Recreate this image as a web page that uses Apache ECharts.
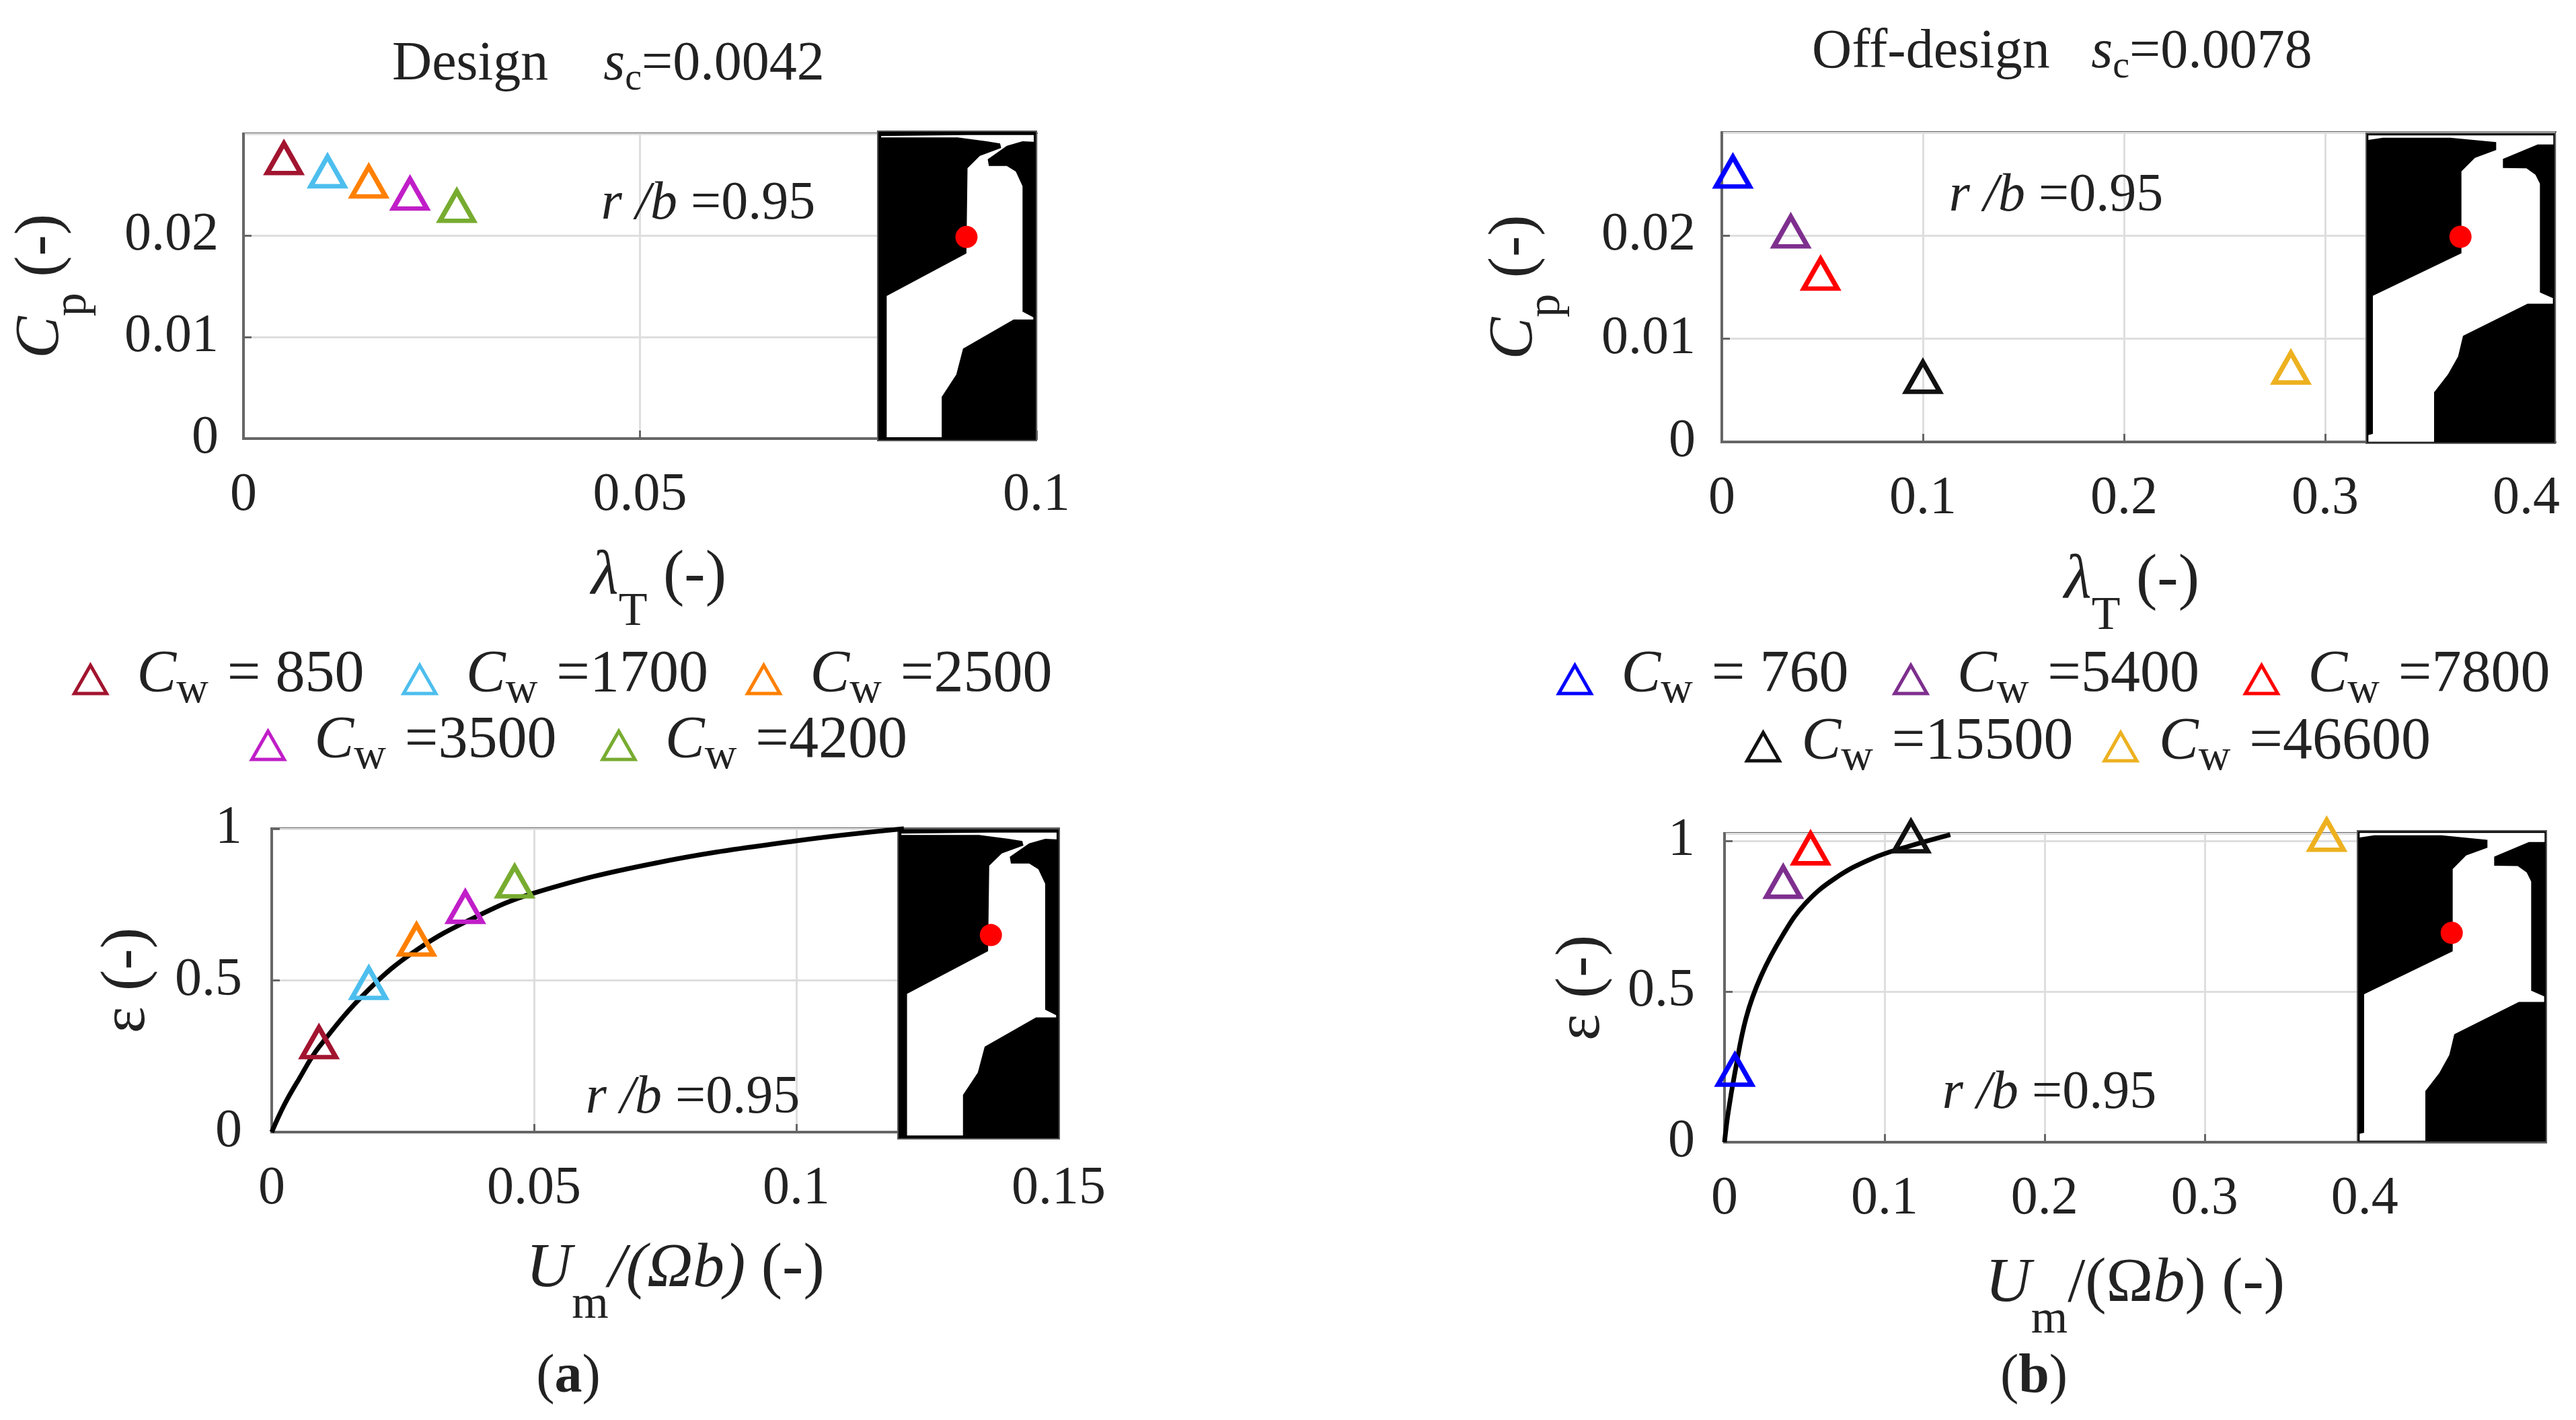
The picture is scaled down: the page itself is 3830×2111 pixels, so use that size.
<!DOCTYPE html>
<html>
<head>
<meta charset="utf-8">
<style>
  html, body { margin: 0; padding: 0; background: #fff; }
  #chart { width: 3830px; height: 2111px; }
</style>
<script src="https://cdn.jsdelivr.net/npm/echarts@6/dist/echarts.min.js"></script>
</head>
<body>
<div id="chart"></div>
<script>
const designCw = [850, 1700, 2500, 3500, 4200];
const designColors = ["#a2142f", "#4dbeee", "#ff8000", "#c01ec8", "#77ac30"];
const designLambda = [0.0051, 0.0106, 0.0158, 0.021, 0.0269];
const designCp = [0.0276, 0.0263, 0.0253, 0.0241, 0.0229];
const designUm = [0.009, 0.0185, 0.0276, 0.0369, 0.0463];
const designEps = [0.296, 0.491, 0.634, 0.742, 0.826];

const offCw = [760, 5400, 7800, 15500, 46600];
const offColors = ["#0000ff", "#7e2f8e", "#ff0000", "#111111", "#edb120"];
const offLambda = [0.0055, 0.0343, 0.0491, 0.1, 0.283];
const offCp = [0.0262, 0.0204, 0.0163, 0.0063, 0.0072];
const offUm = [0.0065, 0.0367, 0.0538, 0.1165, 0.3763];
const offEps = [0.24, 0.864, 0.975, 1.015, 1.02];

// the off-design velocity axis runs past 0.4 under the sketch, only these get a label
const offUmTicks = [0, 0.1, 0.2, 0.3, 0.4];

// curves
const designCurveX = [0, 0.0024, 0.0051, 0.009, 0.0185, 0.0276, 0.0385, 0.05, 0.0732, 0.1, 0.1205];
const designCurveY = [0, 0.09, 0.172, 0.28, 0.47, 0.6, 0.706, 0.788, 0.887, 0.96, 1.0];
const offCurveX = [0, 0.0023, 0.0065, 0.0135, 0.0227, 0.0367, 0.0506, 0.0691, 0.0923, 0.1155, 0.1411];
const offCurveY = [0, 0.099, 0.231, 0.413, 0.55, 0.69, 0.793, 0.876, 0.942, 0.983, 1.021];

// turbine cavity sketch inside each plot, [x, y] in a 707 x 1380 (design) or 843 x 1382 (off-design) frame
const designCavity = [[15,28],[355,28],[485,45],[545,55],[550,75],[455,110],[400,165],[395,545],[40,735],[40,1365],[285,1365],[285,1185],[350,1085],[380,970],[605,840],[693,840],[693,830],[645,805],[645,245],[615,180],[575,155],[495,155],[490,125],[575,65],[645,45],[695,47],[695,17],[400,17],[15,22]];
const offCavity = [[10,30],[75,20],[375,20],[580,40],[580,75],[485,110],[425,170],[425,535],[30,725],[30,1340],[10,1345],[10,1375],[303,1375],[303,1155],[365,1075],[410,995],[432,903],[720,760],[833,760],[833,735],[775,710],[775,225],[755,185],[715,157],[610,155],[610,115],[765,50],[835,50],[835,10],[10,10]];

const FONT = "Liberation Serif";
const INK = "#222";
const SIZE = 80;

const panels = [
  { grid: [362, 1541, 199, 652], xMax: 0.1, xStep: 0.05, yMax: 0.03, yStep: 0.01, hideX: false, hideY: true,
    xs: designLambda, ys: designCp, cw: designCw, colors: designColors,
    xName: "{i|λ}{s|T}{t| (-)}", yName: "{i|C}{s|p}{t| (-)}", xShift: 56, xGap: 158, yGap: 218, yMargin: 37,
    inset: [1305, 1541, 195, 655], cavity: designCavity, frame: [707, 1380], dot: [0.559, 0.342],
    note: [1053, 304] },
  { grid: [2560, 3799, 197, 657], xMax: 0.4144, xStep: 0.1, yMax: 0.03, yStep: 0.01, hideX: true, hideY: true,
    xs: offLambda, ys: offCp, cw: offCw, colors: offColors,
    xName: "{i|λ}{s|T}{t| (-)}", yName: "{i|C}{s|p}{t| (-)}", xShift: -20, xGap: 159, yGap: 225, yMargin: 39,
    inset: [3518, 3799, 198, 659], cavity: offCavity, frame: [843, 1382], dot: [0.499, 0.334],
    note: [3057, 292] },
  { grid: [404, 1574, 1232, 1683], xMax: 0.15, xStep: 0.05, yMax: 1, yStep: 0.5, hideX: false, hideY: false,
    xs: designUm, ys: designEps, cw: designCw, colors: designColors,
    curveX: designCurveX, curveY: designCurveY,
    xName: "{i|U}{s|m}{i|/(Ωb)}{t| (-)}", yName: "{t|ε (-)}", xShift: 30, xGap: 157, yGap: 132, yMargin: 44,
    inset: [1335, 1575, 1232, 1693], cavity: designCavity, frame: [707, 1380], dot: [0.576, 0.343],
    note: [1030, 1633] },
  { grid: [2564, 3785, 1239, 1698], xMax: 0.5132, xStep: 0.1, yMax: 1.025, yStep: 0.5, hideX: false, hideY: true,
    xLabels: offUmTicks,
    xs: offUm, ys: offEps, cw: offCw, colors: offColors,
    curveX: offCurveX, curveY: offCurveY,
    xName: "{i|U}{s|m}{t|/(Ω}{i|b}{t|) (-)}", yName: "{t|ε (-)}", xShift: 0, xGap: 164, yGap: 129, yMargin: 44,
    inset: [3505, 3786, 1235, 1698], cavity: offCavity, frame: [843, 1382], dot: [0.499, 0.328],
    note: [3047, 1626] }
];

const nameRich = (size, subSize, drop) => {
  const lh = size * 0.75 + drop + subSize * 0.25;
  return {
    t: { fontFamily: FONT, fontSize: size, fontWeight: "normal", color: INK, verticalAlign: "top", lineHeight: lh },
    i: { fontFamily: FONT, fontSize: size, fontWeight: "normal", fontStyle: "italic", color: INK, verticalAlign: "top", lineHeight: lh },
    s: { fontFamily: FONT, fontSize: subSize, fontWeight: "normal", color: INK, verticalAlign: "bottom", lineHeight: lh },
    b: { fontFamily: FONT, fontSize: size, fontWeight: "bold", color: INK, verticalAlign: "top", lineHeight: lh }
  };
};

const cwName = (v) => (v < 1000 ? "Cw = " : "Cw =") + v;

const grid = [], xAxis = [], yAxis = [], series = [], graphic = [];

panels.forEach((p, i) => {
  grid.push({
    left: p.grid[0], width: p.grid[1] - p.grid[0], top: p.grid[2], height: p.grid[3] - p.grid[2],
    show: true, borderColor: "#666", borderWidth: 4
  });
  const xLabel = { fontFamily: FONT, fontSize: SIZE, color: INK, margin: 45, showMaxLabel: !p.hideX, hideOverlap: false };
  if (p.xLabels) xLabel.customValues = p.xLabels;
  xAxis.push({
    type: "value", gridIndex: i, min: 0, max: p.xMax, interval: p.xStep,
    name: p.xName, nameLocation: "middle", nameGap: p.xGap,
    nameTextStyle: { rich: nameRich(94, 70, 48), padding: p.xShift >= 0 ? [0, 0, 0, p.xShift] : [0, -p.xShift, 0, 0] },
    axisLine: { lineStyle: { color: "#666", width: 4 } },
    axisTick: { inside: true, length: 12, lineStyle: { color: "#666", width: 3 } },
    axisLabel: xLabel,
    splitLine: { lineStyle: { color: "#dedede", width: 3 } }
  });
  yAxis.push({
    type: "value", gridIndex: i, min: 0, max: p.yMax, interval: p.yStep,
    name: p.yName, nameLocation: "middle", nameGap: p.yGap, nameRotate: 90,
    nameTextStyle: { rich: nameRich(94, 70, 42) },
    axisLine: { lineStyle: { color: "#666", width: 4 } },
    axisTick: { inside: true, length: 12, lineStyle: { color: "#666", width: 3 } },
    axisLabel: { fontFamily: FONT, fontSize: SIZE, color: INK, margin: p.yMargin, padding: [18, 0, 0, 0], showMaxLabel: !p.hideY, hideOverlap: false },
    splitLine: { lineStyle: { color: "#dedede", width: 3 } }
  });

  if (p.curveX) {
    series.push({
      type: "line", xAxisIndex: i, yAxisIndex: i, smooth: 0.4, showSymbol: false, clip: false, z: 8,
      lineStyle: { color: "#000", width: 7 },
      data: p.curveX.map((x, k) => [x, p.curveY[k]])
    });
  }
  p.xs.forEach((x, k) => {
    series.push({
      type: "scatter", name: cwName(p.cw[k]), xAxisIndex: i, yAxisIndex: i, clip: false, z: 9,
      symbol: "triangle", symbolSize: [50, 44],
      itemStyle: { color: "transparent", borderColor: p.colors[k], borderWidth: 7, opacity: 1 },
      data: [[x, p.ys[k]]]
    });
  });

  // cavity sketch sits on top of the plot area, like the pasted picture in the original
  const bw = p.inset[1] - p.inset[0], bh = p.inset[3] - p.inset[2];
  graphic.push({
    type: "rect", z: 5, shape: { x: p.inset[0], y: p.inset[2], width: bw, height: bh },
    style: { fill: "#000", stroke: "#555", lineWidth: 2 }
  });
  graphic.push({
    type: "polygon", z: 6,
    shape: { points: p.cavity.map(c => [p.inset[0] + c[0] / p.frame[0] * bw, p.inset[2] + c[1] / p.frame[1] * bh]) },
    style: { fill: "#fff" }
  });
  graphic.push({
    type: "circle", z: 7,
    shape: { cx: p.inset[0] + p.dot[0] * bw, cy: p.inset[2] + p.dot[1] * bh, r: 16.5 },
    style: { fill: "#ff0000" }
  });
  graphic.push({
    type: "text", z: 7, x: p.note[0], y: p.note[1],
    style: {
      text: "{i|r /b }{t|=0.95}", align: "center", verticalAlign: "middle",
      rich: {
        t: { fontFamily: FONT, fontSize: SIZE, fill: INK },
        i: { fontFamily: FONT, fontSize: SIZE, fontStyle: "italic", fill: INK }
      }
    }
  });
});

const titleRich = nameRich(82, 56, 16);

const makeLegend = (values, left, top, gap, pad) => ({
  left, top, orient: "horizontal", icon: "triangle", itemWidth: 48, itemHeight: 42, itemGap: gap, selectedMode: false,
  data: values.map(cwName),
  itemStyle: { color: "transparent", borderWidth: 5 },
  textStyle: {
    rich: {
      c: { fontFamily: FONT, fontSize: 88, fontStyle: "italic", color: INK, verticalAlign: "top", lineHeight: 100, padding: [0, 0, 0, pad] },
      w: { fontFamily: FONT, fontSize: 66, color: INK, verticalAlign: "bottom", lineHeight: 100, padding: [0, 6, 0, 0] },
      n: { fontFamily: FONT, fontSize: 88, color: INK, verticalAlign: "top", lineHeight: 100 }
    }
  },
  formatter: (name) => "{c|C}{w|w}{n|" + name.slice(2) + "}"
});

const option = {
  backgroundColor: "#fff",
  animation: false,
  title: [
    { text: "{t|Design    }{i|s}{s|c}{t|=0.0042}", left: 578, top: 50, textStyle: { fontWeight: "normal", rich: titleRich } },
    { text: "{t|Off-design   }{i|s}{s|c}{t|=0.0078}", left: 2689, top: 32, textStyle: { fontWeight: "normal", rich: titleRich } },
    { text: "{t|(}{b|a}{t|)}", left: 840, top: 2002, textAlign: "center", textStyle: { fontWeight: "normal", rich: titleRich } },
    { text: "{t|(}{b|b}{t|)}", left: 3019, top: 2002, textAlign: "center", textStyle: { fontWeight: "normal", rich: titleRich } }
  ],
  legend: [
    makeLegend(designCw.slice(0, 3), 103, 955, 56, 40),
    makeLegend(designCw.slice(3), 367, 1053, 66, 40),
    makeLegend(offCw.slice(0, 3), 2310, 955, 66, 40),
    makeLegend(offCw.slice(3), 2590, 1055, 44, 28)
  ],
  grid,
  xAxis,
  yAxis,
  series,
  graphic
};

const chart = echarts.init(document.getElementById("chart"));
chart.setOption(option);
</script>
</body>
</html>
